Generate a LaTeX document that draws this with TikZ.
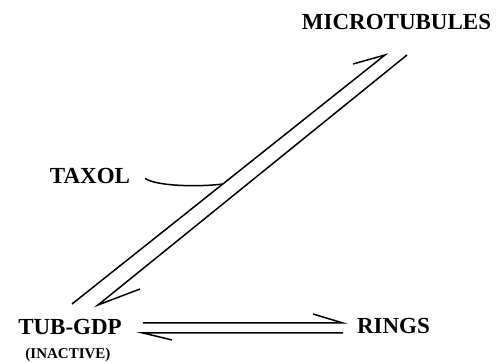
\documentclass[tikz,border=0pt]{standalone}
\usepackage{fontspec}
\setmainfont{Liberation Serif}
\begin{document}
\begin{tikzpicture}[x=1pt,y=1pt,
  lbl/.style={font=\fontsize{23}{26}\selectfont\bfseries, inner sep=0pt, anchor=base},
  sublbl/.style={font=\fontsize{15}{17}\selectfont\bfseries, inner sep=0pt, anchor=base},
  harp/.style={line width=1.5pt, line join=miter, line cap=butt}]
\useasboundingbox (0,0) rectangle (496,363);
% labels
\node[lbl] (tub) at (70,28) {TUB-GDP};
\node[sublbl] (inact) at (68,4) {(INACTIVE)};
\node[lbl] (rings) at (393.5,29) {RINGS};
\node[lbl] (mt) at (396.5,333) {MICROTUBULES};
\node[lbl] (taxol) at (90,179) {TAXOL};
% coordinates for arrow ends
\coordinate (d1s) at (72,59);
\coordinate (d1e) at (385,308);
\coordinate (d1b) at (353,299);
\coordinate (d2s) at (407,308);
\coordinate (d2e) at (98,58);
\coordinate (d2b) at (140,74);
\coordinate (h1s) at (143,40);
\coordinate (h1e) at (343,40);
\coordinate (h1b) at (313,49);
\coordinate (h2s) at (343,30);
\coordinate (h2e) at (143,30);
\coordinate (h2b) at (172,23);
\coordinate (tx) at (223,179);
% harpoons
\draw[harp] (d1s) -- (d1e) -- (d1b);
\draw[harp] (d2s) -- (d2e) -- (d2b);
\draw[harp] (h1s) -- (h1e) -- (h1b);
\draw[harp] (h2s) -- (h2e) -- (h2b);
% taxol connector
\draw[line width=1.5pt] (taxol.east) ++(15,-2) .. controls +(12,-8) and (200,176) .. (tx);
\end{tikzpicture}
\end{document}
